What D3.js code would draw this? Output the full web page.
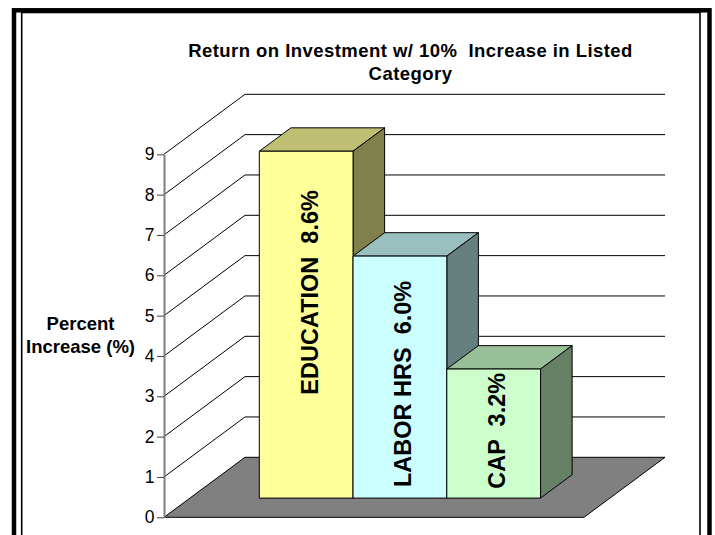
<!DOCTYPE html>
<html>
<head>
<meta charset="utf-8">
<script src="https://cdn.jsdelivr.net/npm/d3@7"></script>
<style>
body { margin:0; background:#fff; }
svg { display:block; font-family:"Liberation Sans", Arial, sans-serif; }
</style>
</head>
<body>
<div id="chart-area"></div>
<script>
// data
const series = ["EDUCATION", "LABOR HRS", "CAP"];
const values = [8.6, 6.0, 3.2];
const valueText = ["8.6%", "6.0%", "3.2%"];
const labelMid = [5.1, 2.83, 1.67];   // where each bar label is centred, in axis units
const yTicks = [0, 1, 2, 3, 4, 5, 6, 7, 8, 9];
const titleLines = ["Return on Investment w/ 10%  Increase in Listed", "Category"];
const yTitle = ["Percent", "Increase (%)"];
const frontColors = ["#FFFF99", "#CCFFFF", "#CCFFCC"];

const W = 715, H = 535;
const floor = { left:164, bottom:517.3, width:420 };
const depth = { dx:81, dy:60 };
const barDepth = [0.32, 0.71];

const svg = d3.select("#chart-area")
    .append("svg")
    .attr("width", W)
    .attr("height", H);

// frame
svg.append("rect")
    .attr("x", 14).attr("y", 10.3)
    .attr("width", 695.5).attr("height", H)
    .attr("fill", "none").attr("stroke", "#000").attr("stroke-width", 4.5);
svg.append("rect")
    .attr("x", 21.7).attr("y", 12.5)
    .attr("width", 678.3).attr("height", H)
    .attr("fill", "none").attr("stroke", "#000").attr("stroke-width", 1.6);

// title
svg.append("text")
    .attr("x", 410.5)
    .attr("text-anchor", "middle")
    .attr("font-size", "18.5px")
    .attr("font-weight", "bold")
    .attr("letter-spacing", "0.45px")
    .selectAll("tspan")
    .data(titleLines)
    .enter()
    .append("tspan")
        .attr("x", 410.5)
        .attr("y", function(d, i){ return 56.7 + i*23.3; })
        .style("white-space", "pre")
        .text(function(d){ return d; });

// y label
svg.append("text")
    .attr("text-anchor", "middle")
    .attr("font-size", "18.5px")
    .attr("font-weight", "bold")
    .selectAll("tspan")
    .data(yTitle)
    .enter()
    .append("tspan")
        .attr("x", 80.5)
        .attr("y", function(d, i){ return 330 + i*23.3; })
        .text(function(d){ return d; });

const y = d3.scaleLinear()
    .domain([0, d3.max(yTicks)])
    .range([floor.bottom, 154.3]);

const x = d3.scaleBand()
    .domain(series)
    .range([floor.left, floor.left + floor.width])
    .paddingInner(0)
    .paddingOuter(0.74);

// point in the 3d box: screen x at the front, value, depth fraction
function pt(px, v, d){
    return [px + d*depth.dx, y(v) - d*depth.dy];
}
function shade(c, k){
    const r = d3.rgb(c);
    return d3.rgb(r.r*k, r.g*k, r.b*k).formatHex();
}

// walls: gridlines across side wall and back wall
const line = d3.line();
svg.append("g")
    .selectAll("path")
    .data(yTicks.filter(function(d){ return d > 0; }))
    .enter()
    .append("path")
        .attr("d", function(v){
            return line([pt(floor.left, v, 0), pt(floor.left, v, 1), pt(floor.left + floor.width, v, 1)]);
        })
        .attr("fill", "none")
        .attr("stroke", "#000")
        .attr("stroke-width", 1);

// floor
svg.append("path")
    .attr("d", line([pt(floor.left, 0, 0), pt(floor.left, 0, 1),
        pt(floor.left + floor.width, 0, 1), pt(floor.left + floor.width, 0, 0)]) + "Z")
    .attr("fill", "#808080")
    .attr("stroke", "#000")
    .attr("stroke-width", 1);

// y axis
const yAxis = svg.append("g")
    .attr("transform", "translate(" + floor.left + ",0)")
    .call(d3.axisLeft(y).tickValues(yTicks).tickSize(7).tickSizeOuter(0).tickPadding(2.5));
yAxis.select(".domain")
    .attr("stroke", "#808080")
    .attr("stroke-width", 2);
yAxis.selectAll(".tick line")
    .attr("stroke", "#404040");
yAxis.selectAll(".tick text")
    .attr("font-family", "Liberation Sans, Arial, sans-serif")
    .attr("font-size", "17.5px")
    .attr("fill", "#000");

// bars
const bars = svg.append("g")
    .selectAll("g")
    .data(series)
    .enter()
    .append("g");

bars.append("path")
    .attr("d", function(d, i){
        const x0 = x(d), x1 = x(d) + x.bandwidth();
        return line([pt(x0, values[i], barDepth[0]), pt(x1, values[i], barDepth[0]),
            pt(x1, values[i], barDepth[1]), pt(x0, values[i], barDepth[1])]) + "Z";
    })
    .attr("fill", function(d, i){ return shade(frontColors[i], 0.75); })
    .attr("stroke", "#000")
    .attr("stroke-width", 1)
    .attr("stroke-linejoin", "round");

bars.append("path")
    .attr("d", function(d, i){
        const x1 = x(d) + x.bandwidth();
        return line([pt(x1, 0, barDepth[0]), pt(x1, values[i], barDepth[0]),
            pt(x1, values[i], barDepth[1]), pt(x1, 0, barDepth[1])]) + "Z";
    })
    .attr("fill", function(d, i){ return shade(frontColors[i], 0.5); })
    .attr("stroke", "#000")
    .attr("stroke-width", 1)
    .attr("stroke-linejoin", "round");

bars.append("path")
    .attr("d", function(d, i){
        const x0 = x(d), x1 = x(d) + x.bandwidth();
        return line([pt(x0, 0, barDepth[0]), pt(x0, values[i], barDepth[0]),
            pt(x1, values[i], barDepth[0]), pt(x1, 0, barDepth[0])]) + "Z";
    })
    .attr("fill", function(d, i){ return frontColors[i]; })
    .attr("stroke", "#000")
    .attr("stroke-width", 1);

// labels inside the bars
bars.append("text")
    .attr("transform", function(d, i){
        const p = pt(x(d) + x.bandwidth()/2, labelMid[i], barDepth[0]);
        return "translate(" + (p[0] + 3 + 8.5) + "," + p[1] + ") rotate(-90)";
    })
    .attr("text-anchor", "middle")
    .attr("font-size", "23.5px")
    .attr("font-weight", "bold")
    .style("white-space", "pre")
    .text(function(d, i){ return d + "  " + valueText[i]; });
</script>
</body>
</html>
